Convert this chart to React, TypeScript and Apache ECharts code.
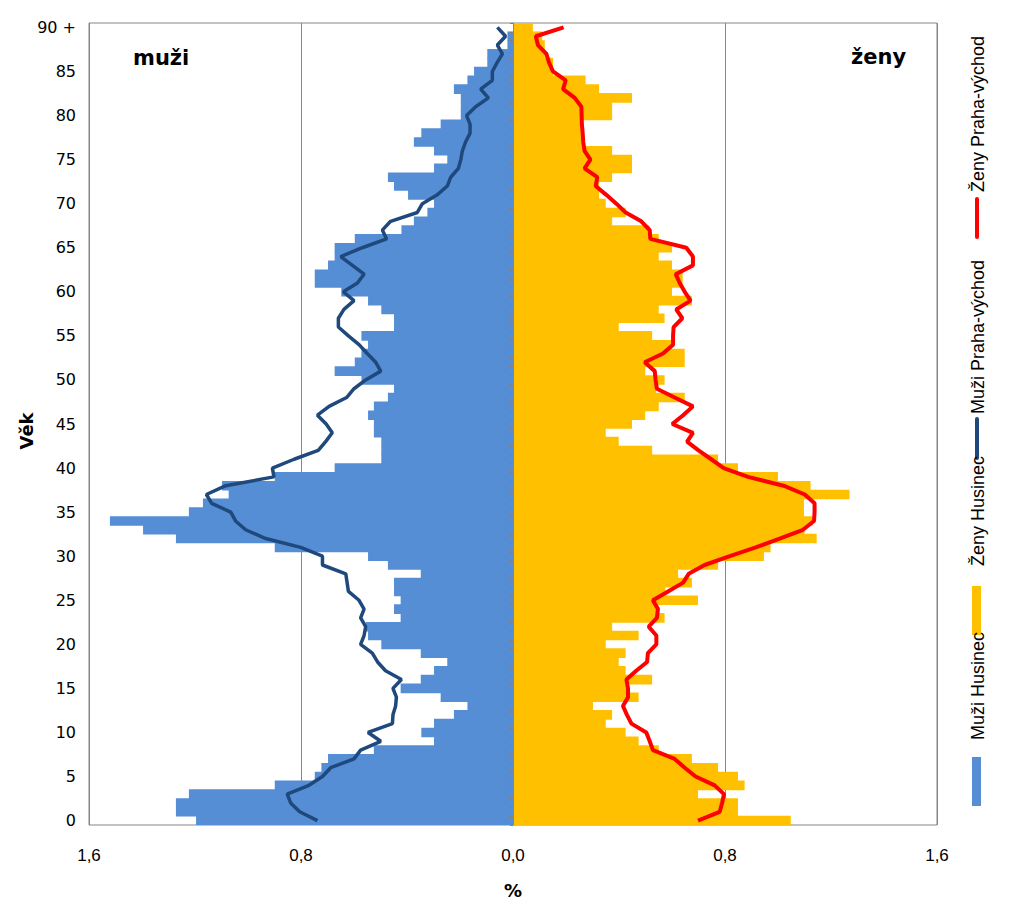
import React, { useEffect, useRef } from 'react';
import * as echarts from 'echarts';

const ages = [
  '0', '1', '2', '3', '4', '5', '6', '7', '8', '9',
  '10', '11', '12', '13', '14', '15', '16', '17', '18', '19',
  '20', '21', '22', '23', '24', '25', '26', '27', '28', '29',
  '30', '31', '32', '33', '34', '35', '36', '37', '38', '39',
  '40', '41', '42', '43', '44', '45', '46', '47', '48', '49',
  '50', '51', '52', '53', '54', '55', '56', '57', '58', '59',
  '60', '61', '62', '63', '64', '65', '66', '67', '68', '69',
  '70', '71', '72', '73', '74', '75', '76', '77', '78', '79',
  '80', '81', '82', '83', '84', '85', '86', '87', '88', '89',
  '90 +',
];

// % of population, age 0 .. 90+
const menHusinec = [
  1.196, 1.272, 1.272, 1.223, 0.899, 0.748, 0.723, 0.698, 0.525, 0.298,
  0.346, 0.298, 0.223, 0.172, 0.273, 0.424, 0.348, 0.298, 0.248, 0.348,
  0.497, 0.547, 0.556, 0.424, 0.449, 0.424, 0.449, 0.449, 0.348, 0.472,
  0.547, 0.899, 1.272, 1.396, 1.521, 1.223, 1.170, 1.073, 1.098, 0.899,
  0.673, 0.497, 0.497, 0.497, 0.525, 0.525, 0.547, 0.525, 0.472, 0.449,
  0.572, 0.673, 0.597, 0.572, 0.547, 0.572, 0.449, 0.449, 0.497, 0.547,
  0.648, 0.748, 0.748, 0.698, 0.673, 0.673, 0.597, 0.421, 0.374, 0.323,
  0.298, 0.396, 0.449, 0.472, 0.298, 0.248, 0.298, 0.374, 0.346, 0.273,
  0.197, 0.197, 0.197, 0.223, 0.172, 0.147, 0.097, 0.097, 0.021, 0.021,
  0.0,
];

const womenHusinec = [
  1.048, 0.849, 0.849, 0.698, 0.874, 0.849, 0.774, 0.675, 0.550, 0.474,
  0.425, 0.350, 0.374, 0.302, 0.474, 0.434, 0.525, 0.425, 0.399, 0.425,
  0.350, 0.474, 0.374, 0.572, 0.540, 0.698, 0.575, 0.675, 0.623, 0.774,
  0.947, 0.972, 1.146, 1.100, 1.130, 1.098, 1.098, 1.270, 1.123, 1.000,
  0.849, 0.774, 0.525, 0.399, 0.350, 0.449, 0.499, 0.550, 0.648, 0.540,
  0.572, 0.499, 0.648, 0.648, 0.600, 0.525, 0.399, 0.572, 0.550, 0.675,
  0.600, 0.640, 0.640, 0.600, 0.550, 0.600, 0.550, 0.515, 0.374, 0.425,
  0.350, 0.325, 0.325, 0.374, 0.449, 0.449, 0.374, 0.260, 0.260, 0.260,
  0.374, 0.374, 0.449, 0.325, 0.274, 0.151, 0.151, 0.120, 0.120, 0.110,
  0.075,
];

const menPraha = [
  0.738, 0.805, 0.839, 0.852, 0.770, 0.719, 0.688, 0.600, 0.575, 0.499,
  0.547, 0.455, 0.453, 0.443, 0.440, 0.453, 0.421, 0.481, 0.511, 0.531,
  0.575, 0.562, 0.556, 0.575, 0.562, 0.581, 0.621, 0.626, 0.631, 0.719,
  0.719, 0.801, 0.933, 1.009, 1.047, 1.065, 1.137, 1.157, 1.084, 0.902,
  0.908, 0.826, 0.735, 0.707, 0.682, 0.705, 0.738, 0.694, 0.628, 0.600,
  0.556, 0.499, 0.518, 0.550, 0.581, 0.621, 0.659, 0.659, 0.638, 0.600,
  0.640, 0.587, 0.562, 0.606, 0.650, 0.569, 0.477, 0.493, 0.462, 0.361,
  0.342, 0.286, 0.248, 0.235, 0.206, 0.197, 0.191, 0.179, 0.162, 0.162,
  0.175, 0.141, 0.093, 0.122, 0.078, 0.078, 0.060, 0.040, 0.059, 0.028,
  0.059,
];

const womenPraha = [
  0.698, 0.780, 0.789, 0.796, 0.761, 0.689, 0.648, 0.610, 0.528, 0.516,
  0.503, 0.447, 0.430, 0.415, 0.434, 0.434, 0.428, 0.465, 0.506, 0.509,
  0.541, 0.541, 0.512, 0.543, 0.547, 0.528, 0.585, 0.642, 0.663, 0.723,
  0.818, 0.916, 1.006, 1.094, 1.136, 1.138, 1.138, 1.101, 1.021, 0.887,
  0.795, 0.748, 0.700, 0.657, 0.679, 0.601, 0.642, 0.679, 0.610, 0.543,
  0.538, 0.535, 0.497, 0.566, 0.604, 0.604, 0.606, 0.639, 0.616, 0.670,
  0.648, 0.629, 0.614, 0.679, 0.679, 0.654, 0.518, 0.516, 0.484, 0.425,
  0.390, 0.352, 0.312, 0.318, 0.270, 0.292, 0.270, 0.265, 0.263, 0.260,
  0.259, 0.258, 0.233, 0.189, 0.199, 0.151, 0.136, 0.126, 0.094, 0.086,
  0.191,
];

const seriesNames = ['Muži Husinec', 'Ženy Husinec', 'Muži Praha-východ', 'Ženy Praha-východ'];
const colors = ['#558ED5', '#FFC000', '#1F497D', '#FF0000'];

export default function App() {
  const ref = useRef<HTMLDivElement>(null);
  useEffect(() => {
    if (!ref.current) return;
    const chart = echarts.init(ref.current, null, { renderer: 'svg' });
    const fmtX = (v: number) => Math.abs(v).toFixed(1).replace('.', ',');
    const legendFont = { fontFamily: 'Liberation Sans', fontSize: 18, fill: '#000' };
    const legendText = (text: string, y: number) => ({
      type: 'text',
      x: 978,
      y,
      rotation: Math.PI / 2,
      style: { text, ...legendFont, align: 'left', verticalAlign: 'middle' },
    });
    chart.setOption({
      animation: false,
      backgroundColor: '#ffffff',
      grid: {
        left: 89,
        top: 23,
        width: 848,
        height: 802,
        show: true,
        borderColor: '#868686',
        borderWidth: 1,
        backgroundColor: 'transparent',
        outerBoundsMode: 'none',
      },
      xAxis: {
        type: 'value',
        min: -1.6,
        max: 1.6,
        interval: 0.8,
        axisLine: { show: false, onZero: false },
        axisTick: { show: false },
        splitLine: { show: true, lineStyle: { color: '#868686', width: 1 } },
        axisLabel: {
          formatter: fmtX,
          margin: 22,
          fontFamily: 'Liberation Sans',
          fontSize: 17,
          color: '#000',
        },
      },
      yAxis: [
        {
          type: 'category',
          data: ages,
          position: 'left',
          axisLine: { show: false, onZero: false },
          axisTick: { show: false },
          splitLine: { show: false },
          axisLabel: {
            interval: 4,
            margin: 13,
            fontFamily: 'DejaVu Sans',
            fontSize: 16,
            color: '#000',
          },
        },
        {
          type: 'category',
          data: ages,
          position: 'left',
          offset: -424,
          z: 5,
          axisLine: { show: true, onZero: false, lineStyle: { color: '#868686', width: 1 } },
          axisTick: { show: true, length: 3, interval: 0, lineStyle: { color: '#8c7b6b' } },
          axisLabel: { show: false },
          splitLine: { show: false },
        },
      ],
      series: [
        {
          name: seriesNames[0],
          type: 'bar',
          yAxisIndex: 0,
          data: menHusinec.map((v) => -v),
          barGap: '-100%',
          barWidth: 9.6,
          itemStyle: { color: colors[0] },
        },
        {
          name: seriesNames[1],
          type: 'bar',
          yAxisIndex: 0,
          data: womenHusinec,
          barGap: '-100%',
          barWidth: 9.6,
          itemStyle: { color: colors[1] },
        },
        {
          name: seriesNames[2],
          type: 'line',
          yAxisIndex: 0,
          z: 6,
          data: menPraha.map((v) => -v),
          symbol: 'none',
          lineStyle: { color: colors[2], width: 3.5 },
        },
        {
          name: seriesNames[3],
          type: 'line',
          yAxisIndex: 0,
          z: 6,
          data: womenPraha,
          symbol: 'none',
          lineStyle: { color: colors[3], width: 4 },
        },
      ],
      graphic: [
        {
          type: 'text',
          x: 133,
          y: 58,
          style: { text: 'muži', fontFamily: 'DejaVu Sans', fontWeight: 'bold', fontSize: 21, fill: '#000', align: 'left', verticalAlign: 'middle' },
        },
        {
          type: 'text',
          x: 851,
          y: 57,
          style: { text: 'ženy', fontFamily: 'DejaVu Sans', fontWeight: 'bold', fontSize: 21, fill: '#000', align: 'left', verticalAlign: 'middle' },
        },
        {
          type: 'text',
          x: 26,
          y: 431,
          rotation: Math.PI / 2,
          style: { text: 'Věk', fontFamily: 'DejaVu Sans', fontWeight: 'bold', fontSize: 18, fill: '#000', align: 'center', verticalAlign: 'middle' },
        },
        {
          type: 'text',
          x: 513,
          y: 890,
          style: { text: '%', fontFamily: 'DejaVu Sans', fontWeight: 'bold', fontSize: 18, fill: '#000', align: 'center', verticalAlign: 'middle' },
        },
        // legend
        { type: 'line', shape: { x1: 977, y1: 199, x2: 977, y2: 237 }, style: { stroke: colors[3], lineWidth: 4, lineCap: 'round' } },
        legendText(seriesNames[3], 192),
        { type: 'line', shape: { x1: 977, y1: 419, x2: 977, y2: 458 }, style: { stroke: colors[2], lineWidth: 4, lineCap: 'round' } },
        legendText(seriesNames[2], 414),
        { type: 'rect', shape: { x: 972, y: 586, width: 9, height: 49 }, style: { fill: colors[1] } },
        legendText(seriesNames[1], 566),
        { type: 'rect', shape: { x: 972, y: 757, width: 9, height: 49 }, style: { fill: colors[0] } },
        legendText(seriesNames[0], 740),
      ],
    });
    return () => chart.dispose();
  }, []);
  return <div ref={ref} style={{ position: 'absolute', left: 0, top: 0, width: 1012, height: 911 }} />;
}
